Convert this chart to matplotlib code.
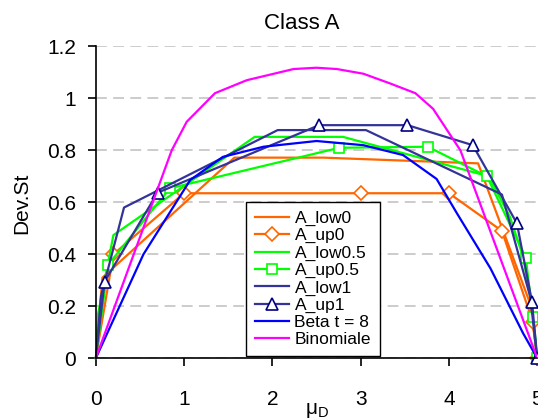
import matplotlib.pyplot as plt

plt.rcParams['font.family'] = ['Liberation Sans', 'DejaVu Sans']
plt.rcParams['mathtext.default'] = 'regular'

# values (x = mu_D, y = Dev.St)
low0_x = [0, 0.075, 1.57, 2.58, 4.33, 4.92, 5]
low0_y = [0, 0.31, 0.772, 0.772, 0.75, 0.21, 0]

up0_x = [0, 0.2, 1.0, 3.0, 4.0, 4.6, 4.95, 5]
up0_y = [0, 0.40, 0.635, 0.635, 0.635, 0.49, 0.14, 0]

low05_x = [0, 0.026, 0.2, 1.8, 2.8, 4.45, 4.69, 4.84, 4.95, 5]
low05_y = [0, 0.17, 0.474, 0.852, 0.852, 0.70, 0.545, 0.39, 0.18, 0]

up05_x = [0, 0.14, 0.84, 2.76, 3.76, 4.43, 4.87, 4.95, 5]
up05_y = [0, 0.36, 0.654, 0.81, 0.814, 0.70, 0.387, 0.16, 0]

low1_x = [0, 0.06, 0.32, 2.06, 3.06, 4.6, 4.92, 5]
low1_y = [0, 0.24, 0.58, 0.878, 0.878, 0.63, 0.237, 0]

up1_x = [0, 0.1, 0.7, 2.53, 3.53, 4.27, 4.77, 4.94, 5]
up1_y = [0, 0.295, 0.637, 0.897, 0.897, 0.82, 0.519, 0.218, 0]

beta_x = [0, 0.54, 1.07, 1.44, 1.9, 2.5, 3.03, 3.48, 3.86, 4.09, 4.47, 4.84, 5]
beta_y = [0, 0.40, 0.686, 0.775, 0.814, 0.836, 0.82, 0.782, 0.69, 0.558, 0.346, 0.096, 0]

binom_x = [0, 0.86, 1.03, 1.35, 1.71, 2.24, 2.5, 2.73, 3.03, 3.33, 3.62, 3.82, 4.13, 5]
binom_y = [0, 0.80, 0.91, 1.02, 1.07, 1.113, 1.118, 1.113, 1.095, 1.058, 1.02, 0.96, 0.80, 0]

x_ticks = [0, 1, 2, 3, 4, 5]
y_ticks = [0, 0.2, 0.4, 0.6, 0.8, 1.0, 1.2]
y_tick_labels = ['0', '0.2', '0.4', '0.6', '0.8', '1', '1.2']

orange = '#FF6600'
green = '#00FF00'
navy = '#333399'

fig = plt.figure(figsize=(5.38, 4.19), dpi=100)
ax = fig.add_axes([0.178, 0.145, 0.8206, 0.7442])

lw = 1.6
ax.plot(low0_x, low0_y, color=orange, lw=lw, label='A_low0')
ax.plot(up0_x, up0_y, color=orange, lw=lw, marker='D', ms=7, mfc='white',
        mec=orange, mew=1.2, markevery=slice(1, None), clip_on=False, label='A_up0')
ax.plot(low05_x, low05_y, color=green, lw=lw, label='A_low0.5')
ax.plot(up05_x, up05_y, color=green, lw=lw, marker='s', ms=7.5, mfc='white',
        mec=green, mew=1.2, markevery=slice(1, None), clip_on=False, label='A_up0.5')
ax.plot(low1_x, low1_y, color=navy, lw=lw, label='A_low1')
ax.plot(up1_x, up1_y, color=navy, lw=lw, marker='^', ms=8.5, mfc='white',
        mec='#000080', mew=1.2, markevery=slice(1, None), clip_on=False, label='A_up1')
ax.plot(beta_x, beta_y, color='#0000FF', lw=lw, label='Beta t = 8')
ax.plot(binom_x, binom_y, color='#FF00FF', lw=lw, label='Binomiale')

ax.set_xlim(0, 5)
ax.set_ylim(0, 1.2)
ax.set_xticks(x_ticks)
ax.set_xticklabels([str(t) for t in x_ticks])
ax.set_yticks(y_ticks)
ax.set_yticklabels(y_tick_labels)

# dashed horizontal gridlines like the Excel original
ax.grid(True, axis='y', color='#C8C8C8', linestyle=(0, (6, 3.5)), lw=1.3)
ax.set_axisbelow(True)

for side in ['top', 'right']:
    ax.spines[side].set_visible(False)
ax.spines['left'].set_linewidth(1.2)
ax.spines['bottom'].set_linewidth(1.2)
ax.tick_params(axis='both', direction='out', length=6, width=1.2, labelsize=15)
ax.tick_params(axis='x', pad=17)
ax.tick_params(axis='y', pad=8)

fig.text(0.561, 0.931, 'Class A', ha='center', va='baseline', fontsize=16)
fig.text(0.041, 0.515, 'Dev.St', ha='center', va='center', rotation=90, fontsize=15)
fig.text(0.589, 0.012, r'$\mu_D$', ha='center', va='baseline', fontsize=15)

leg = ax.legend(loc='lower left', bbox_to_anchor=(0.457, 0.150),
                bbox_transform=fig.transFigure, fontsize=12.5, fancybox=False,
                edgecolor='black', framealpha=1, borderpad=0.5, labelspacing=0.12,
                handlelength=2.0, handletextpad=0.3, borderaxespad=0)
leg.get_frame().set_linewidth(1.0)

plt.savefig('out.png', dpi=100)
